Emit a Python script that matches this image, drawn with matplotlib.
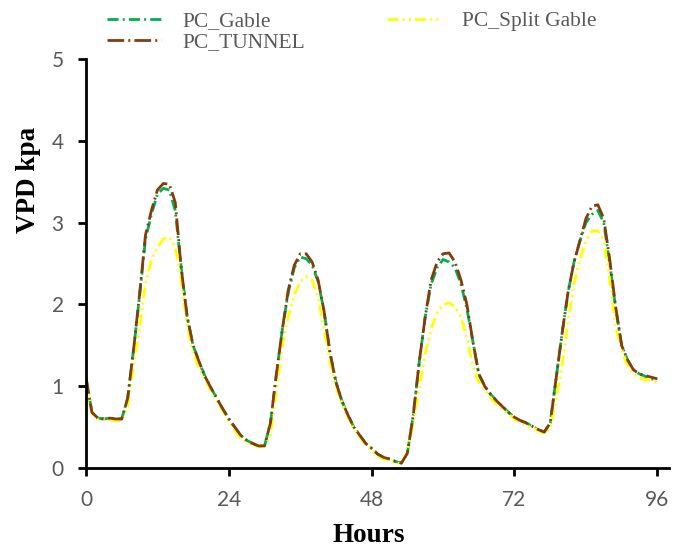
import numpy as np
import matplotlib.pyplot as plt

# hourly VPD values (kPa), hours 0..96
hours = np.arange(0, 97)

pc_tunnel = [1.11, 0.68, 0.61, 0.60, 0.61, 0.60, 0.60, 0.85, 1.45, 2.12,
             2.85, 3.15, 3.40, 3.48, 3.47, 3.25, 2.45, 1.85, 1.50, 1.30,
             1.12, 0.98, 0.85, 0.72, 0.60, 0.50, 0.40, 0.34, 0.30, 0.27,
             0.27, 0.55, 1.15, 1.70, 2.18, 2.48, 2.62, 2.62, 2.52, 2.30,
             1.92, 1.41, 1.05, 0.82, 0.65, 0.50, 0.40, 0.30, 0.24, 0.17,
             0.13, 0.11, 0.08, 0.06, 0.18, 0.65, 1.30, 1.85, 2.30, 2.52,
             2.62, 2.63, 2.52, 2.30, 2.00, 1.55, 1.15, 1.00, 0.90, 0.82,
             0.75, 0.68, 0.62, 0.58, 0.55, 0.51, 0.47, 0.44, 0.55, 1.10,
             1.65, 2.15, 2.52, 2.78, 3.05, 3.20, 3.22, 3.05, 2.55, 1.97,
             1.50, 1.32, 1.20, 1.15, 1.13, 1.11, 1.09]

pc_gable = [1.11, 0.68, 0.61, 0.60, 0.61, 0.60, 0.60, 0.85, 1.45, 2.10,
            2.80, 3.10, 3.35, 3.42, 3.40, 3.15, 2.45, 1.85, 1.50, 1.30,
            1.12, 0.98, 0.85, 0.72, 0.60, 0.50, 0.40, 0.34, 0.30, 0.27,
            0.27, 0.55, 1.15, 1.70, 2.15, 2.45, 2.58, 2.56, 2.48, 2.28,
            1.92, 1.41, 1.05, 0.82, 0.65, 0.50, 0.40, 0.30, 0.24, 0.17,
            0.13, 0.11, 0.08, 0.06, 0.18, 0.65, 1.30, 1.85, 2.25, 2.45,
            2.55, 2.52, 2.45, 2.25, 1.95, 1.55, 1.15, 1.00, 0.90, 0.82,
            0.75, 0.68, 0.62, 0.58, 0.55, 0.51, 0.47, 0.44, 0.55, 1.10,
            1.65, 2.15, 2.52, 2.78, 3.00, 3.10, 3.15, 3.00, 2.50, 1.95,
            1.50, 1.32, 1.20, 1.15, 1.12, 1.09, 1.07]

pc_split_gable = [1.10, 0.67, 0.60, 0.60, 0.59, 0.58, 0.58, 0.75, 1.25, 1.70,
                  2.25, 2.55, 2.70, 2.80, 2.82, 2.70, 2.30, 1.75, 1.40, 1.22,
                  1.08, 0.95, 0.82, 0.70, 0.57, 0.46, 0.37, 0.31, 0.28, 0.26,
                  0.27, 0.40, 0.95, 1.50, 1.85, 2.12, 2.28, 2.34, 2.30, 2.08,
                  1.70, 1.30, 1.00, 0.80, 0.63, 0.48, 0.38, 0.28, 0.21, 0.15,
                  0.11, 0.09, 0.07, 0.05, 0.20, 0.55, 0.98, 1.40, 1.70, 1.90,
                  2.00, 2.02, 1.97, 1.85, 1.58, 1.25, 1.05, 0.95, 0.86, 0.78,
                  0.72, 0.66, 0.60, 0.56, 0.52, 0.49, 0.46, 0.42, 0.48, 0.85,
                  1.25, 1.80, 2.25, 2.55, 2.78, 2.90, 2.90, 2.78, 2.30, 1.72,
                  1.45, 1.25, 1.15, 1.10, 1.08, 1.07, 1.05]

x_ticks = [0, 24, 48, 72, 96]
y_ticks = [0, 1, 2, 3, 4, 5]

fig = plt.figure(figsize=(6.85, 5.48), dpi=100)
ax = fig.add_axes([0.1255, 0.146, 0.8515, 0.746])

lw = 2.0
l1, = ax.plot(hours, pc_gable, color='#00B050', lw=lw,
              linestyle=(0, (4, 1.5, 0.7, 1.5)), label='PC_Gable')
l2, = ax.plot(hours, pc_split_gable, color='#FFFF00', lw=lw,
              linestyle=(0, (4, 1.5, 0.7, 1.5, 0.7, 1.5)), label='PC_Split Gable')
l3, = ax.plot(hours, pc_tunnel, color='#843C0C', lw=lw,
              linestyle=(0, (6, 1.5, 0.7, 1.5)), label='PC_TUNNEL')

ax.set_xlim(0, 98)
ax.set_ylim(0, 5)
ax.set_xticks(x_ticks)
ax.set_yticks(y_ticks)

for s in ['top', 'right']:
    ax.spines[s].set_visible(False)
for s in ['left', 'bottom']:
    ax.spines[s].set_linewidth(2.0)
    ax.spines[s].set_color('black')

ax.tick_params(axis='both', direction='out', length=6, width=2.0,
               labelsize=15, labelcolor='#595959')
ax.tick_params(axis='x', pad=10)
ax.tick_params(axis='y', pad=10)
for lab in ax.get_xticklabels() + ax.get_yticklabels():
    lab.set_family('Lato')

ax.set_xlabel('Hours', fontsize=19.5, fontweight='bold', family='Liberation Serif', va='center')
ax.set_ylabel('VPD kpa', fontsize=19.5, fontweight='bold', family='Liberation Serif', va='center')
ax.xaxis.set_label_coords(0.484, -0.164)
ax.yaxis.set_label_coords(-0.099, 0.704)

leg = fig.legend(handles=[l1, l3, l2], loc='upper left', bbox_to_anchor=(0.128, 1.015),
                 ncol=2, frameon=False, handlelength=2.5, columnspacing=3.8,
                 labelspacing=0.05, handletextpad=1.0,
                 prop={'family': 'Liberation Serif', 'size': 15.5})
for t in leg.get_texts():
    t.set_color('#595959')

fig.savefig('out.png', dpi=100)
